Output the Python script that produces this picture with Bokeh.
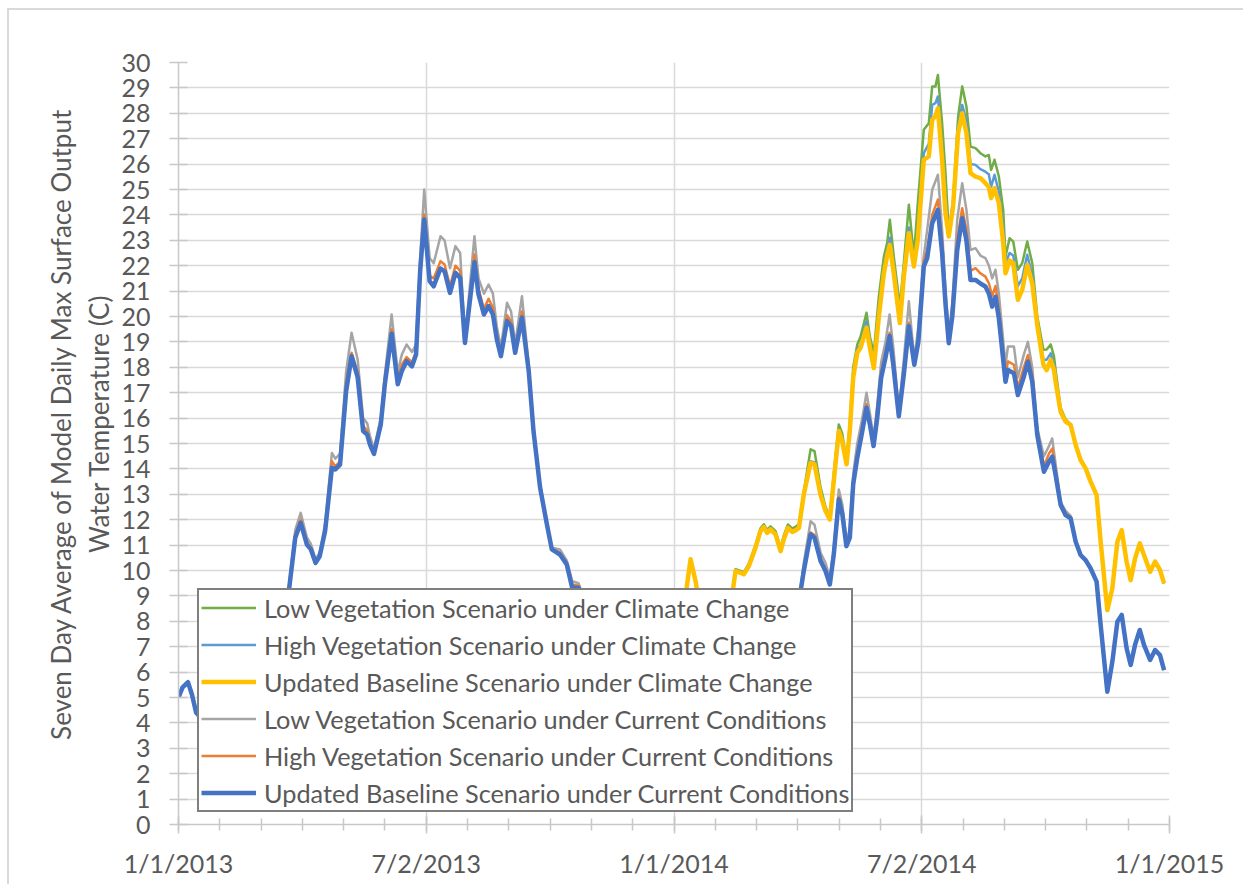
from bokeh.plotting import figure
from bokeh.models import FixedTicker, Legend, LegendItem, ColumnDataSource
from bokeh.embed import file_html
from bokeh.resources import INLINE

# ---------------- data ----------------
# x = days since 1/1/2013
cur_days = [0, 3, 7, 10, 13, 20, 30, 40, 50, 60, 70, 78, 81, 86, 90, 94.6, 97.5, 101, 104, 108,
            113, 115.5, 119, 123.5, 127.5, 132, 136, 139, 141, 144, 149, 152, 157, 161.5, 164.5, 168,
            172, 175, 178, 181, 185, 188, 193, 196, 200, 204, 207.5, 211, 218, 221, 225, 228.4, 231.6,
            234.5, 237.5, 242, 245, 248, 253, 258, 261.5, 266.4, 271.4, 275, 281, 286, 290, 294.7, 297,
            300, 310, 320, 330, 340, 350, 365, 380, 395, 410, 425, 440, 450, 457.7, 460.6, 465.6, 468.5,
            473, 476.6, 479.8, 482.7, 486.4, 489, 492, 494.5, 497, 500, 503.7, 506.8, 509.3, 512, 514.7,
            517.6, 520.8, 523.8, 526.5, 530.6, 534.3, 538, 542, 545, 549, 551.5, 555.2, 559.4, 562.5, 565,
            567.4, 570, 573.6, 577.3, 580.4, 583.4, 587.1, 590.7, 594.4, 597, 599.4, 601.8, 604.3, 609.2,
            611, 615.4, 618.3, 622.7, 625.7, 628.9, 632.6, 637.5, 641.2, 643.6, 646.1, 649.8, 653.5, 657.2,
            660.9, 664.5, 668.2, 671.9, 676.3, 679.3, 684.2, 687.9, 691.6, 694.8, 698.4, 701.4, 704.6,
            708.1, 711.2, 715.7, 719.4, 723, 726]

base_cur = [5.0, 5.4, 5.6, 5.1, 4.4, 4.0, 3.6, 3.9, 4.6, 5.5, 6.8, 8.2, 9.06, 11.29, 11.88, 11.02, 10.83, 10.30, 10.56, 11.55,
            14.04, 13.98, 14.17, 17.06, 18.44, 17.6, 15.49, 15.35, 14.96, 14.59, 15.75, 17.33, 19.32, 17.33, 17.85, 18.24,
            18.04, 18.5, 21.78, 23.82, 21.39, 21.19, 21.89, 21.78, 20.93, 21.72, 21.52, 18.96, 22.14, 20.87, 20.08, 20.41, 20.08,
            19.1, 18.44, 19.82, 19.62, 18.57, 19.96, 17.85, 15.49, 13.25, 11.81, 10.83, 10.63, 10.24, 9.32, 9.32, 9.06,
            8.3, 7.2, 6.5, 6.0, 5.5, 5.0, 4.6, 4.4, 4.8, 5.5, 6.3, 7.2, 8.2, 9.0, 9.98, 11.42, 11.29,
            10.37, 9.98, 9.45, 10.63, 12.8, 12.21, 10.96, 11.29, 13.39, 14.44, 15.49, 16.41, 15.75, 14.9, 16.01,
            17.59, 18.38, 19.23, 18.11, 16.07, 17.72, 19.62, 18.1, 19.0, 21.97, 22.3, 23.67, 24.2, 22.5, 20.5,
            18.95, 20.0, 22.6, 23.87, 23.0, 21.44, 21.44, 21.3, 21.18, 20.9, 20.39, 20.78, 19.93, 17.43,
            17.9, 17.76, 16.91, 17.63, 18.22, 17.43, 15.33, 13.89, 14.28, 14.48, 13.76, 12.58, 12.18, 12.05,
            11.13, 10.61, 10.41, 10.08, 9.56, 7.85, 5.23, 6.41, 7.98, 8.25, 6.94, 6.28, 7.07,
            7.66, 7.07, 6.48, 6.87, 6.67, 6.08]

highveg_cur = [5.0, 5.4, 5.6, 5.1, 4.4, 4.0, 3.6, 3.9, 4.6, 5.5, 6.8, 8.25, 9.1, 11.4, 12.0, 11.1, 10.9, 10.35, 10.6, 11.65,
               14.3, 14.1, 14.3, 17.4, 18.57, 17.8, 15.7, 15.5, 15.1, 14.7, 15.8, 17.5, 19.5, 17.5, 18.1, 18.4,
               18.2, 18.6, 22.0, 24.02, 21.6, 21.5, 22.18, 22.05, 21.2, 22.0, 21.8, 19.0, 22.44, 21.1, 20.3, 20.7, 20.35,
               19.3, 18.55, 20.05, 19.8, 18.7, 20.2, 17.95, 15.55, 13.3, 11.85, 10.85, 10.7, 10.3, 9.45, 9.4, 9.1,
               8.35, 7.2, 6.5, 6.0, 5.5, 5.0, 4.6, 4.4, 4.8, 5.5, 6.35, 7.25, 8.25, 9.05, 10.1, 11.5, 11.4,
               10.45, 10.05, 9.5, 10.7, 12.9, 12.3, 11.0, 11.35, 13.5, 14.6, 15.65, 16.55, 15.85, 15.0, 16.2,
               17.8, 18.6, 19.36, 18.3, 16.15, 17.9, 19.75, 18.2, 19.2, 22.2, 22.6, 24.0, 24.6, 22.9, 20.7,
               19.1, 20.2, 23.0, 24.26, 23.4, 21.8, 21.9, 21.7, 21.57, 21.3, 20.8, 21.2, 20.3, 17.7,
               18.23, 18.1, 17.2, 18.0, 18.48, 17.7, 15.5, 14.1, 14.6, 14.8, 13.95, 12.65, 12.25, 12.1,
               11.15, 10.61, 10.41, 10.08, 9.56, 7.85, 5.23, 6.41, 7.98, 8.25, 6.94, 6.28, 7.07,
               7.66, 7.07, 6.48, 6.87, 6.67, 6.08]

lowveg_cur = [5.0, 5.4, 5.6, 5.1, 4.4, 4.0, 3.6, 3.9, 4.6, 5.5, 6.9, 8.3, 9.2, 11.6, 12.27, 11.3, 11.05, 10.45, 10.7, 11.85,
              14.63, 14.4, 14.6, 17.85, 19.36, 18.3, 16.0, 15.8, 15.3, 14.8, 16.0, 17.7, 20.08, 17.8, 18.5, 18.9,
              18.6, 18.9, 22.3, 25.0, 22.3, 22.1, 23.16, 23.0, 21.9, 22.77, 22.5, 19.1, 23.16, 21.5, 20.9, 21.26, 20.9,
              19.6, 18.77, 20.54, 20.2, 18.9, 20.8, 18.1, 15.6, 13.35, 11.9, 10.9, 10.83, 10.4, 9.58, 9.5, 9.15,
              8.4, 7.25, 6.5, 6.0, 5.5, 5.0, 4.6, 4.4, 4.85, 5.55, 6.4, 7.3, 8.35, 9.1, 10.3, 11.94, 11.8,
              10.7, 10.3, 9.7, 10.9, 13.19, 12.6, 11.2, 11.6, 13.8, 15.0, 16.0, 17.0, 16.2, 15.2, 16.5,
              18.2, 19.0, 20.08, 18.8, 16.3, 18.3, 20.6, 18.3, 19.6, 22.36, 23.41, 24.99, 25.58, 23.41, 21.0,
              19.34, 20.5, 23.8, 25.25, 24.2, 22.62, 22.69, 22.4, 22.3, 22.0, 21.5, 21.84, 20.9, 18.1,
              18.82, 18.82, 17.6, 18.5, 19.0, 18.0, 15.6, 14.5, 14.9, 15.2, 14.2, 12.7, 12.35, 12.15,
              11.18, 10.61, 10.41, 10.08, 9.56, 7.85, 5.23, 6.41, 7.98, 8.25, 6.94, 6.28, 7.07,
              7.66, 7.07, 6.48, 6.87, 6.67, 6.08]

cc_days = [365, 369, 373.5, 377.2, 380.9, 382.6, 386, 392, 398, 404, 407.8, 410.3, 414, 416.4, 420.1, 425,
           428.7, 431.2, 433.6, 436.1, 439.8, 443.5, 445.9, 448.9, 452.1, 454.5, 457, 460.6, 465.6, 468.5,
           472.9, 476.6, 479.8, 482.7, 486.4, 488.9, 492.1, 494.5, 497, 500, 502.4, 506.8, 509.3, 512.2,
           515.9, 519.6, 522, 524, 526.9, 531.4, 534.3, 538, 541.7, 544.6, 549, 552.7, 555.2, 557.6, 559.4,
           562.5, 565, 567.4, 570.6, 574.3, 577.3, 580.4, 583.4, 587.1, 590.7, 594.4, 596.9, 598.6, 601.1,
           604.3, 607.5, 609.2, 612.2, 614.9, 618.3, 621.5, 625.2, 628.9, 632.6, 637.1, 639.5, 642.5, 644.9,
           646.1, 649.8, 653.5, 657.2, 660.9, 664.5, 668.2, 671.9, 676.3, 679.3, 684.2, 687.9, 691.6, 694.8,
           698.4, 701.4, 704.6, 708.1, 711.2, 715.7, 719.4, 723, 726]

base_cc = [7.6, 7.9, 9.0, 10.44, 9.58, 9.0, 8.2, 7.6, 7.8, 8.3, 9.0, 9.98, 9.91, 9.85, 10.17, 10.89,
           11.55, 11.71, 11.48, 11.62, 11.42, 10.76, 11.22, 11.68, 11.52, 11.58, 11.68, 12.99, 14.24, 14.18,
           12.99, 12.34, 12.01, 13.52, 15.49, 15.09, 14.18, 15.49, 17.59, 18.57, 18.77, 19.56, 18.77, 17.97,
           20.0, 21.7, 22.4, 22.82, 21.7, 19.74, 21.57, 23.28, 21.97, 23.02, 26.17, 26.3, 27.74, 27.9, 28.2,
           26.17, 24.07, 23.15, 24.33, 27.22, 28.0, 27.22, 25.64, 25.51, 25.45, 25.25, 25.1, 24.66, 25.05,
           24.46, 22.89, 21.7, 22.2, 22.1, 20.66, 21.05, 22.03, 21.3, 19.66, 18.1, 17.89, 18.29, 17.9,
           17.43, 16.25, 15.86, 15.73, 14.94, 14.35, 14.02, 13.5, 12.97, 11.13, 8.44, 9.3, 11.13, 11.59,
           10.35, 9.62, 10.47, 11.07, 10.61, 9.95, 10.35, 10.02, 9.49]

highveg_cc = [7.6, 7.9, 9.0, 10.45, 9.6, 9.0, 8.2, 7.6, 7.8, 8.3, 9.0, 10.0, 9.93, 9.87, 10.2, 10.92,
              11.58, 11.74, 11.52, 11.66, 11.46, 10.8, 11.26, 11.72, 11.56, 11.62, 11.72, 13.03, 14.3, 14.25,
              13.05, 12.4, 12.05, 13.6, 15.55, 15.15, 14.22, 15.6, 17.7, 18.7, 18.9, 19.8, 18.9, 18.1,
              20.3, 21.9, 22.6, 23.1, 21.9, 19.9, 21.8, 23.5, 22.1, 23.3, 26.43, 26.8, 28.33, 28.4, 28.66,
              26.7, 24.6, 23.2, 24.45, 27.5, 28.33, 27.7, 26.0, 25.97, 25.8, 25.7, 25.6, 25.1, 25.58,
              24.9, 23.5, 22.1, 22.5, 22.4, 21.2, 21.5, 22.43, 21.6, 19.72, 18.3, 18.3, 18.55, 18.1,
              17.6, 16.3, 15.88, 15.73, 14.94, 14.35, 14.02, 13.5, 12.97, 11.13, 8.44, 9.3, 11.13, 11.59,
              10.35, 9.62, 10.47, 11.07, 10.61, 9.95, 10.35, 10.02, 9.49]

lowveg_cc = [7.6, 7.9, 9.0, 10.46, 9.62, 9.02, 8.2, 7.6, 7.8, 8.3, 9.02, 10.05, 9.98, 9.93, 10.27, 11.0,
             11.66, 11.82, 11.6, 11.74, 11.55, 10.9, 11.38, 11.81, 11.66, 11.72, 11.82, 13.1, 14.77, 14.7,
             13.3, 12.5, 12.1, 13.8, 15.75, 15.4, 14.3, 15.8, 18.0, 18.9, 19.2, 20.15, 19.2, 18.56,
             20.79, 22.36, 22.89, 23.81, 22.36, 20.39, 22.1, 24.4, 22.36, 24.46, 27.35, 27.61, 29.06, 29.06, 29.51,
             27.61, 25.64, 23.28, 24.59, 27.87, 29.06, 28.27, 26.69, 26.63, 26.43, 26.3, 26.36, 25.77, 26.17,
             25.51, 24.2, 22.36, 23.08, 22.95, 21.84, 22.1, 22.95, 22.1, 20.0, 18.69, 18.7, 18.9, 18.43,
             17.9, 16.4, 15.95, 15.73, 14.94, 14.35, 14.02, 13.5, 12.97, 11.13, 8.44, 9.3, 11.13, 11.59,
             10.35, 9.62, 10.47, 11.07, 10.61, 9.95, 10.35, 10.02, 9.49]

x_tick_days = [0, 182.5, 365, 547.5, 730]
x_tick_labels = ["1/1/2013", "7/2/2013", "1/1/2014", "7/2/2014", "1/1/2015"]
y_ticks = list(range(0, 31))

y_title_lines = ["Seven Day Average of Model Daily Max Surface Output", "Water Temperature (C)"]

series_names = [
    "Low Vegetation Scenario under Climate Change",
    "High Vegetation Scenario under Climate Change",
    "Updated Baseline Scenario under Climate Change",
    "Low Vegetation Scenario under Current Conditions",
    "High Vegetation Scenario under Current Conditions",
    "Updated Baseline Scenario under Current Conditions",
]

# ---------------- figure ----------------
FONT = "Lato"
TXT = "#595959"
GRID = "#d9d9d9"

p = figure(width=1236, height=876, x_range=(0, 730), y_range=(0, 30),
           output_backend="svg", toolbar_location=None,
           min_border_left=169, min_border_right=76, min_border_top=52, min_border_bottom=62,
           styles={"margin-left": "7px", "margin-top": "8px",
                   "border-left": "2px solid #d9d9d9", "border-top": "2px solid #d9d9d9"})
p.outline_line_color = None
p.background_fill_color = "white"
p.border_fill_color = "white"

p.xaxis.ticker = FixedTicker(ticks=x_tick_days, minor_ticks=[i * 730 / 24 for i in range(25)])
p.xaxis.major_label_overrides = {d: lab for d, lab in zip(x_tick_days, x_tick_labels)}
p.yaxis.ticker = FixedTicker(ticks=y_ticks, minor_ticks=[])

for ax in (p.xaxis[0], p.yaxis[0]):
    ax.axis_line_color = "#c8c8c8"
    ax.axis_line_width = 1.5
    ax.major_tick_line_color = "#c8c8c8"
    ax.major_tick_line_width = 1.5
    ax.minor_tick_line_color = "#c8c8c8"
    ax.minor_tick_line_width = 1.5
    ax.major_tick_in = 9
    ax.major_tick_out = 9
    ax.major_label_text_font = FONT
    ax.major_label_text_font_size = "25px"
    ax.major_label_text_color = TXT
p.xaxis.minor_tick_in = 6
p.xaxis.minor_tick_out = 6
p.xaxis.major_label_standoff = 14
p.yaxis.major_label_standoff = 19

# leading no-break spaces lift the centred title slightly, as in the original
pad = "\u00a0" * 6
p.yaxis.axis_label = "\n".join(pad + s for s in y_title_lines)
p.yaxis.axis_label_text_font = FONT
p.yaxis.axis_label_text_font_size = "26px"
p.yaxis.axis_label_text_font_style = "normal"
p.yaxis.axis_label_text_color = TXT
p.yaxis.axis_label_standoff = 3

p.xgrid.grid_line_color = GRID
p.xgrid.grid_line_width = 1.5
p.ygrid.grid_line_color = GRID
p.ygrid.grid_line_width = 1.5

src_cur = ColumnDataSource(dict(x=cur_days, base=base_cur, high=highveg_cur, low=lowveg_cur))
src_cc = ColumnDataSource(dict(x=cc_days, base=base_cc, high=highveg_cc, low=lowveg_cc))

r1 = p.line("x", "low", source=src_cc, line_color="#70AD47", line_width=2.5, line_join="round")
r2 = p.line("x", "high", source=src_cc, line_color="#5B9BD5", line_width=2.5, line_join="round")
r3 = p.line("x", "base", source=src_cc, line_color="#FFC000", line_width=4.5, line_join="round")
r4 = p.line("x", "low", source=src_cur, line_color="#A5A5A5", line_width=2.5, line_join="round")
r5 = p.line("x", "high", source=src_cur, line_color="#ED7D31", line_width=2.5, line_join="round")
r6 = p.line("x", "base", source=src_cur, line_color="#4472C4", line_width=4.5, line_join="round")

legend = Legend(items=[LegendItem(label=n, renderers=[r]) for n, r in
                       zip(series_names, [r1, r2, r3, r4, r5, r6])],
                location=(19, 12))
legend.border_line_color = "black"
legend.border_line_width = 2
legend.background_fill_color = "white"
legend.background_fill_alpha = 1.0
legend.label_text_font = FONT
legend.label_text_font_size = "25.3px"
legend.label_text_color = TXT
legend.glyph_width = 55
legend.glyph_height = 31
legend.label_height = 31
legend.label_standoff = 8
legend.spacing = 6
legend.padding = 2
legend.margin = 0
p.add_layout(legend, "center")

open("out.html", "w").write(file_html(p, INLINE))
